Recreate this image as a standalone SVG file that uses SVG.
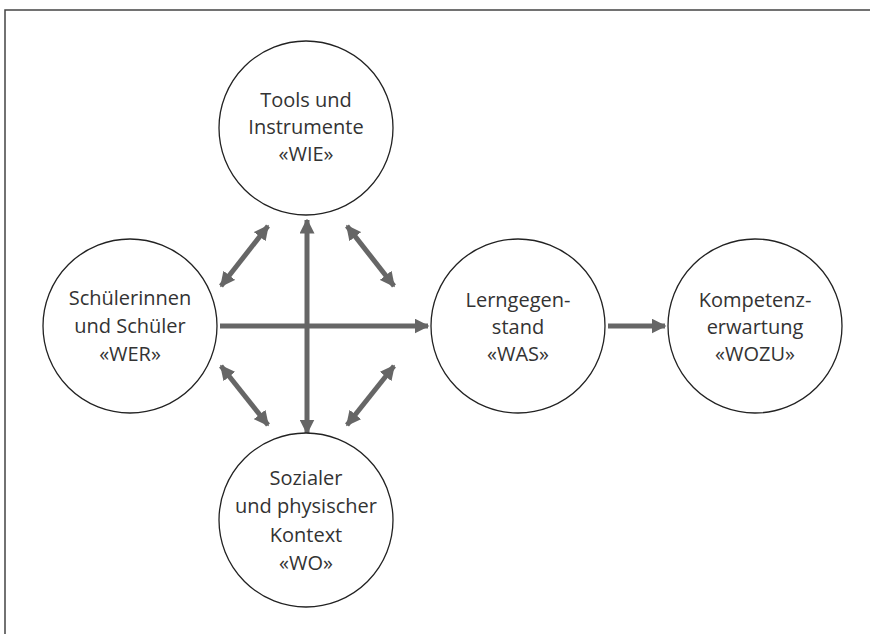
<svg xmlns="http://www.w3.org/2000/svg" width="870" height="634" viewBox="0 0 870 634">
<defs>
<style>
.n{fill:#fff;stroke:#222;stroke-width:1.3}
.t{font-family:"Open Sans","Noto Sans",sans-serif;font-size:20px;fill:#333;text-anchor:middle}
.c{stroke:#666;stroke-width:5;fill:none}
</style>
<marker id="ah" viewBox="0 0 10 10" refX="9" refY="5" markerWidth="3" markerHeight="3" orient="auto-start-reverse" markerUnits="strokeWidth">
<path d="M0,0 L10,5 L0,10 z" fill="#666"/>
</marker>
</defs>
<rect width="870" height="634" fill="#fff"/>
<path d="M5,634 V10 H870" fill="none" stroke="#444" stroke-width="1.5"/>
<g id="connectors">
<line class="c" x1="220" y1="326" x2="428" y2="326" marker-end="url(#ah)"/>
<line class="c" x1="307" y1="220" x2="307" y2="433" marker-start="url(#ah)" marker-end="url(#ah)"/>
<line class="c" x1="221" y1="286" x2="268" y2="226" marker-start="url(#ah)" marker-end="url(#ah)"/>
<line class="c" x1="347" y1="226" x2="394" y2="286" marker-start="url(#ah)" marker-end="url(#ah)"/>
<line class="c" x1="221" y1="366" x2="268" y2="425" marker-start="url(#ah)" marker-end="url(#ah)"/>
<line class="c" x1="347" y1="425" x2="394" y2="366" marker-start="url(#ah)" marker-end="url(#ah)"/>
<line class="c" x1="608" y1="326" x2="665" y2="326" marker-end="url(#ah)"/>
</g>
<g id="wie">
<circle class="n" cx="306" cy="128" r="87"/>
<text class="t" x="306" y="107">Tools und</text>
<text class="t" x="306" y="134">Instrumente</text>
<text class="t" x="306" y="161">«WIE»</text>
</g>
<g id="wer">
<circle class="n" cx="130" cy="326" r="87"/>
<text class="t" x="130" y="305">Schülerinnen</text>
<text class="t" x="130" y="333">und Schüler</text>
<text class="t" x="130" y="361">«WER»</text>
</g>
<g id="wo">
<circle class="n" cx="306" cy="520" r="87"/>
<text class="t" x="306" y="485">Sozialer</text>
<text class="t" x="306" y="513">und physischer</text>
<text class="t" x="306" y="542">Kontext</text>
<text class="t" x="306" y="570">«WO»</text>
</g>
<g id="was">
<circle class="n" cx="518" cy="326" r="87"/>
<text class="t" x="518" y="307">Lerngegen-</text>
<text class="t" x="518" y="334">stand</text>
<text class="t" x="518" y="361">«WAS»</text>
</g>
<g id="wozu">
<circle class="n" cx="755" cy="326" r="87"/>
<text class="t" x="755" y="307">Kompetenz-</text>
<text class="t" x="755" y="334">erwartung</text>
<text class="t" x="755" y="361">«WOZU»</text>
</g>
</svg>
